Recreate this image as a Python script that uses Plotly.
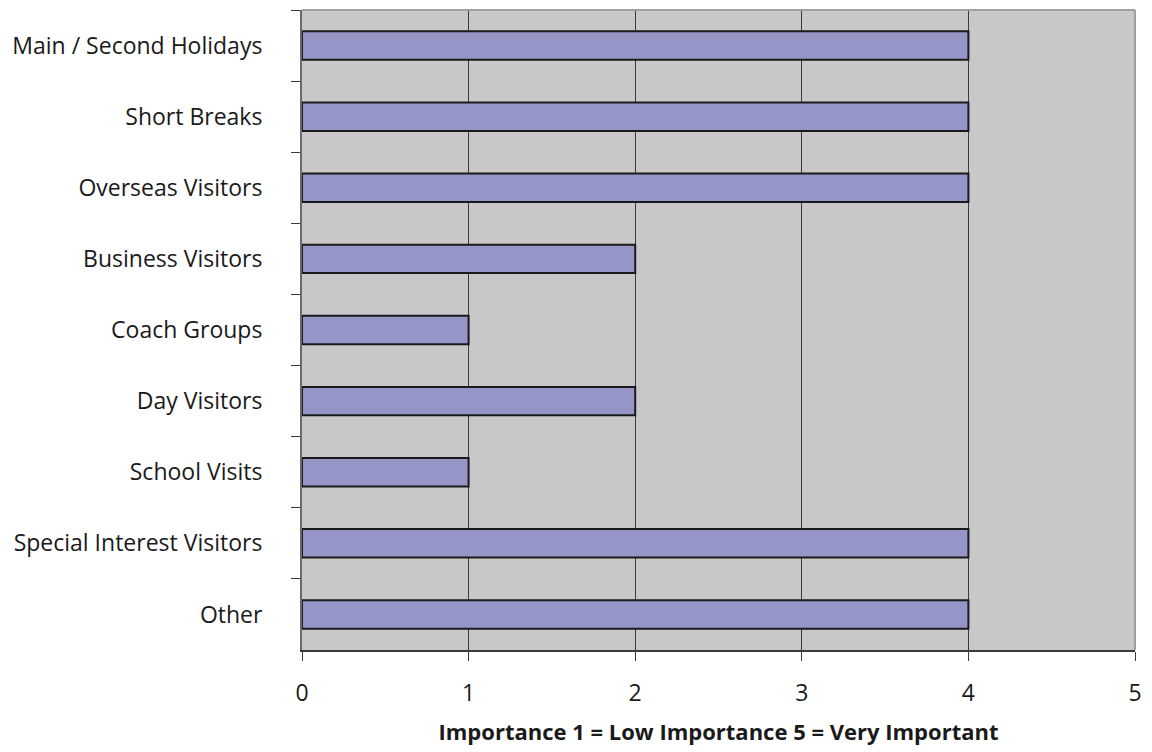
import plotly.graph_objects as go

categories = [
    "Main / Second Holidays",
    "Short Breaks",
    "Overseas Visitors",
    "Business Visitors",
    "Coach Groups",
    "Day Visitors",
    "School Visits",
    "Special Interest Visitors",
    "Other",
]
importance = [4, 4, 4, 2, 1, 2, 1, 4, 4]
x_ticks = [0, 1, 2, 3, 4, 5]
x_title = "Importance 1 = Low Importance 5 = Very Important"

FONT = "Open Sans, Calibri, sans-serif"

fig = go.Figure(
    go.Bar(
        x=importance,
        y=categories,
        orientation="h",
        marker=dict(color="#9595C8", line=dict(color="#1a1a1a", width=2)),
        hoverinfo="x+y",
    )
)

fig.update_layout(
    width=1152,
    height=752,
    margin=dict(l=302, r=15, t=10, b=102),
    paper_bgcolor="white",
    plot_bgcolor="#C8C8CA",
    bargap=0.6,
    showlegend=False,
    font=dict(family=FONT, size=23, color="#1a1a1a"),
)

fig.update_xaxes(
    range=[0, 5],
    tickvals=x_ticks,
    ticktext=[str(v) for v in x_ticks],
    showgrid=True,
    gridcolor="#3a3a3a",
    gridwidth=1,
    zeroline=False,
    showline=True,
    linecolor="#3a3a3a",
    linewidth=2,
    ticks="outside",
    ticklen=9,
    tickcolor="#3a3a3a",
    tickfont=dict(size=23),
    ticklabelstandoff=12,
    title=dict(text="<b>" + x_title + "</b>", font=dict(size=22), standoff=18),
)

fig.update_yaxes(
    categoryorder="array",
    categoryarray=categories,
    autorange="reversed",
    showgrid=False,
    zeroline=False,
    showline=True,
    linecolor="#6a6a6a",
    linewidth=2,
    ticks="outside",
    tickson="boundaries",
    ticklen=9,
    tickcolor="#3a3a3a",
    tickfont=dict(size=23),
    ticklabelstandoff=33,
)

# light frame on the top and right edges of the plotting area
fig.add_shape(type="line", xref="x domain", yref="y domain",
              x0=0, x1=1, y0=1, y1=1, line=dict(color="#A0A0A0", width=2))
fig.add_shape(type="line", xref="x domain", yref="y domain",
              x0=1, x1=1, y0=0, y1=1, line=dict(color="#A0A0A0", width=2))

fig.write_html("out.html")
